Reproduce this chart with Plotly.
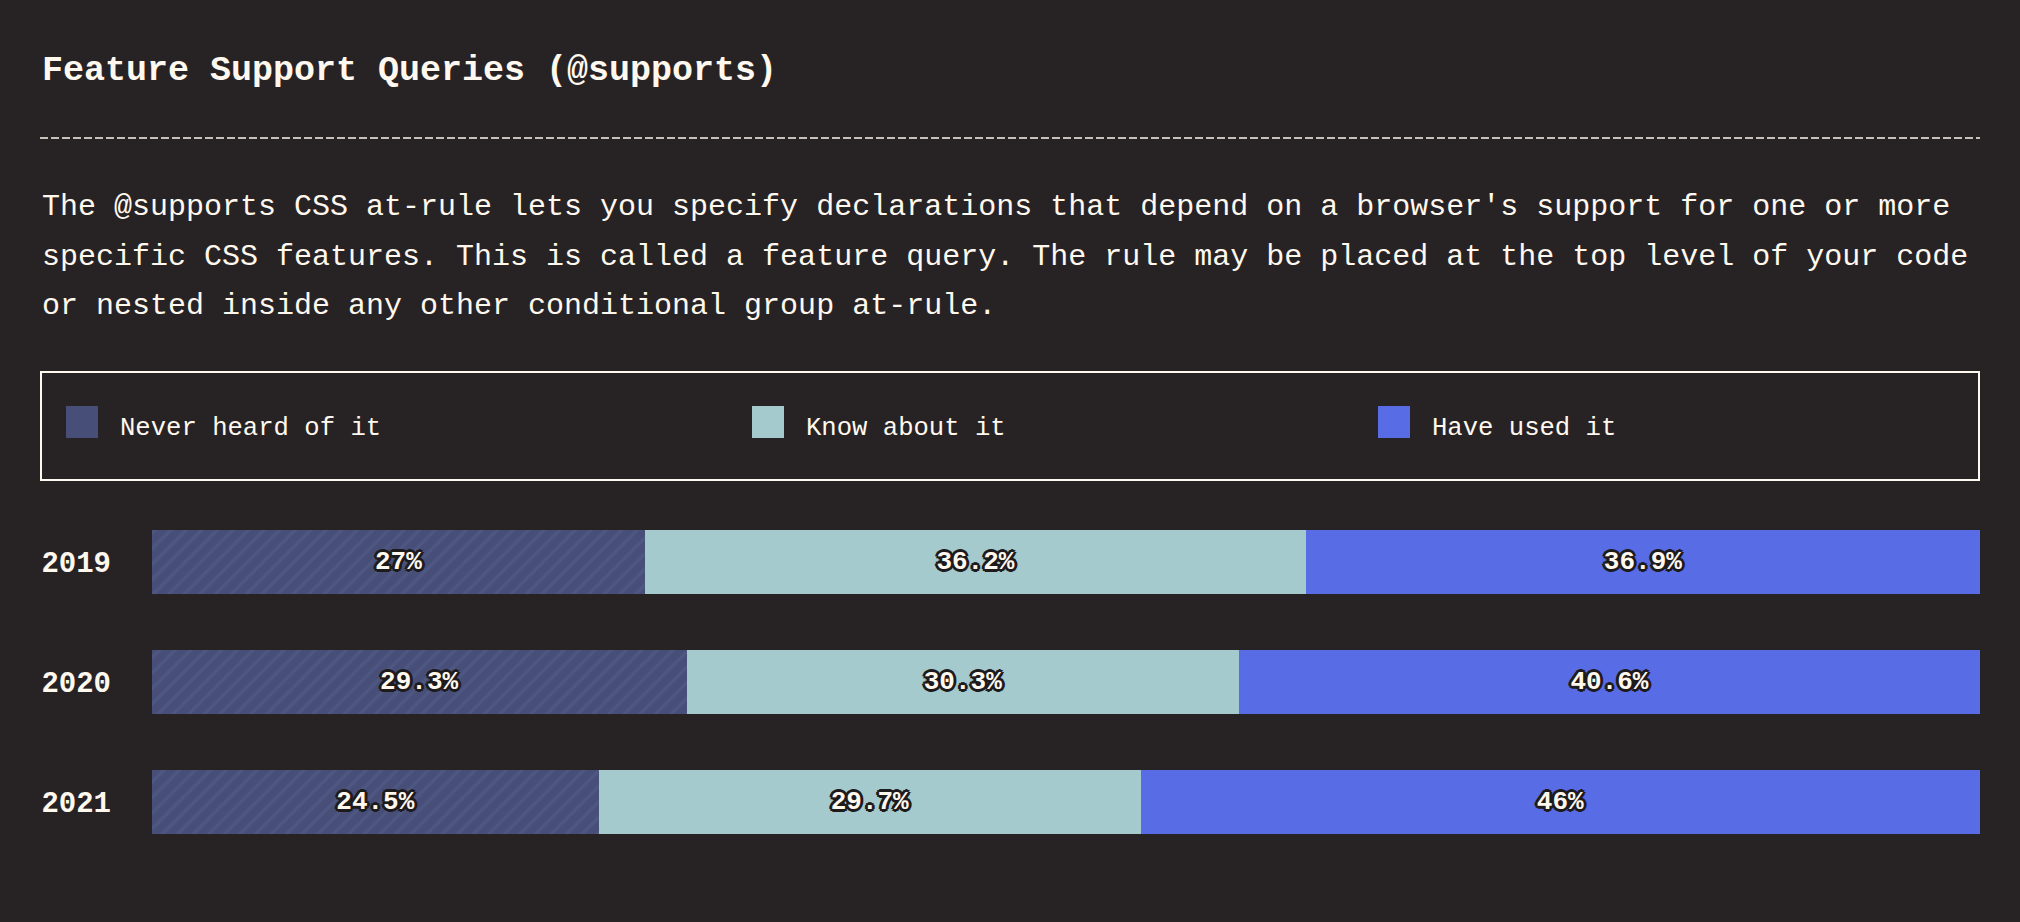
import plotly.graph_objects as go

# ---- data ----
years = ["2019", "2020", "2021"]
series_names = ["Never heard of it", "Know about it", "Have used it"]
never_heard = [27.0, 29.3, 24.5]
know_about = [36.2, 30.3, 29.7]
have_used = [36.9, 40.6, 46.0]
series_values = [never_heard, know_about, have_used]
series_labels = [["27%", "29.3%", "24.5%"], ["36.2%", "30.3%", "29.7%"], ["36.9%", "40.6%", "46%"]]

title_text = "Feature Support Queries (@supports)"
desc_lines = [
    "The @supports CSS at-rule lets you specify declarations that depend on a browser's support for one or more",
    "specific CSS features. This is called a feature query. The rule may be placed at the top level of your code",
    "or nested inside any other conditional group at-rule.",
]

# ---- styles ----
BG = "#272325"
CREAM = "#FFF8EE"
colors = ["#474F78", "#A4CACD", "#586CE6"]
MONO = "Liberation Mono, DejaVu Sans Mono, monospace"

W, H = 2020, 922
ML, MR, MT, MB = 152, 40, 502, 60
PW, PH = W - ML - MR, H - MT - MB


def px(x):
    return (x - ML) / PW


def py(y):
    return (H - MB - y) / PH


# normalise each row so the stacked bar fills the full width
totals = [sum(v[i] for v in series_values) for i in range(len(years))]

outline = ", ".join(
    f"{dx}px {dy}px 0 #1e1b1d" for dx, dy in
    [(2, 0), (-2, 0), (0, 2), (0, -2), (2, 2), (-2, -2), (2, -2), (-2, 2), (3, 0), (-3, 0), (0, 3), (0, -3)]
)

fig = go.Figure()
for k, name in enumerate(series_names):
    marker = dict(color=colors[k], line=dict(width=0))
    if k == 0:
        marker["pattern"] = dict(shape="/", fgcolor="#4E5682", bgcolor=colors[k],
                                 size=11, solidity=0.3, fillmode="replace")
    fig.add_trace(go.Bar(
        name=name,
        y=years,
        x=[series_values[k][i] / totals[i] * 100 for i in range(len(years))],
        orientation="h",
        marker=marker,
        text=series_labels[k],
        textposition="inside",
        insidetextanchor="middle",
        textangle=0,
        constraintext="none",
        textfont=dict(family=MONO, size=26, color=CREAM, weight="bold", shadow=outline),
        hoverinfo="skip",
        showlegend=False,
    ))

fig.update_layout(
    width=W, height=H,
    margin=dict(l=ML, r=MR, t=MT, b=MB, pad=0),
    paper_bgcolor=BG, plot_bgcolor=BG,
    barmode="stack",
    bargap=1 - 64 / 120,
    xaxis=dict(range=[0, 100], visible=False, fixedrange=True),
    yaxis=dict(
        categoryorder="array", categoryarray=years, autorange="reversed",
        showgrid=False, zeroline=False, showline=False, ticks="",
        ticklabelstandoff=40,
        tickfont=dict(family=MONO, size=29, color=CREAM, weight="bold"),
        fixedrange=True,
    ),
    font=dict(family=MONO, color=CREAM),
)

annotations = []
# title
annotations.append(dict(text=title_text, x=px(40), y=py(71), xref="paper", yref="paper",
                        xanchor="left", yanchor="middle", showarrow=False,
                        font=dict(family=MONO, size=35, color=CREAM, weight="bold")))
# description lines
for i, line in enumerate(desc_lines):
    annotations.append(dict(text=line, x=px(40), y=py(207 + i * 49.5), xref="paper", yref="paper",
                            xanchor="left", yanchor="middle", showarrow=False,
                            font=dict(family=MONO, size=30, color=CREAM)))

shapes = []
# dashed separator
shapes.append(dict(type="line", xref="paper", yref="paper", x0=px(40), x1=px(1980), y0=py(138), y1=py(138),
                   line=dict(color=CREAM, width=1.5, dash="8px,3px")))
# legend box
shapes.append(dict(type="rect", xref="paper", yref="paper", x0=px(41), x1=px(1979), y0=py(372), y1=py(480),
                   line=dict(color=CREAM, width=2), fillcolor="rgba(0,0,0,0)"))
legend_x = [66, 752, 1378]
for k, name in enumerate(series_names):
    x0 = legend_x[k]
    shapes.append(dict(type="rect", xref="paper", yref="paper", x0=px(x0), x1=px(x0 + 32),
                       y0=py(406), y1=py(438), line=dict(width=0), fillcolor=colors[k]))
    annotations.append(dict(text=name, x=px(x0 + 52), y=py(428), xref="paper", yref="paper",
                            xanchor="left", yanchor="middle", showarrow=False,
                            font=dict(family=MONO, size=25.6, color=CREAM)))

fig.update_layout(annotations=annotations, shapes=shapes)

fig.write_html("out.html", config=dict(displayModeBar=False, staticPlot=False))
